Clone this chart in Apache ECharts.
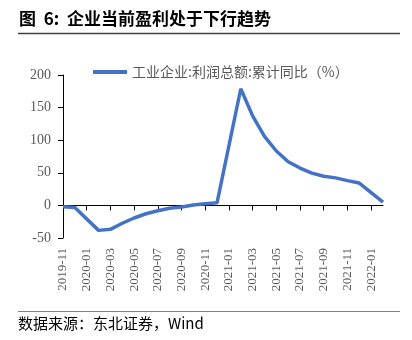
<!DOCTYPE html>
<html>
<head>
<meta charset="utf-8">
<script src="https://cdn.jsdelivr.net/npm/echarts@6/dist/echarts.min.js"></script>
<style>
  html, body { margin: 0; padding: 0; background: #ffffff; }
  #chart { width: 412px; height: 340px; }
</style>
</head>
<body>
<div id="chart"></div>
<script>
// Monthly categories, Nov 2019 to Feb 2022
const months = [
  '2019-11', '2019-12',
  '2020-01', '2020-02', '2020-03', '2020-04', '2020-05', '2020-06',
  '2020-07', '2020-08', '2020-09', '2020-10', '2020-11', '2020-12',
  '2021-01', '2021-02', '2021-03', '2021-04', '2021-05', '2021-06',
  '2021-07', '2021-08', '2021-09', '2021-10', '2021-11', '2021-12',
  '2022-01', '2022-02'
];

// Cumulative YoY profit growth of industrial enterprises (%); January is reported jointly with February
const profitYoY = [
  -2.1, -3.3,
  null, -38.3, -36.7, -27.4, -19.3, -12.8,
  -8.1, -4.4, -2.4, 0.7, 2.4, 4.1,
  null, 178.9, 137.3, 106.0, 83.4, 66.9,
  57.3, 49.5, 44.7, 42.2, 38.0, 34.3,
  null, 5.0
];

const seriesName = '工业企业:利润总额:累计同比（%）';
const titleText = '图  6:  企业当前盈利处于下行趋势';
const sourceText = '数据来源：东北证券，Wind';

const yMin = -50, yMax = 200, yStep = 50;

const serif = '"Liberation Serif", "DejaVu Serif", serif';
const cjk = '"Noto Sans CJK SC", sans-serif';
const labelGray = '#595959';

const chart = echarts.init(document.getElementById('chart'), null, { renderer: 'canvas' });

chart.setOption({
  animation: false,
  backgroundColor: '#ffffff',
  grid: { left: 63, right: 29, top: 75, bottom: 102, containLabel: false },
  legend: {
    left: 88, top: 60,
    itemWidth: 34, itemHeight: 4, itemGap: 10,
    icon: 'rect',
    textStyle: { fontFamily: cjk, fontSize: 14, color: labelGray },
    data: [seriesName]
  },
  xAxis: [
    {
      // labels along the bottom edge
      type: 'category', data: months, boundaryGap: false,
      position: 'bottom',
      axisLine: { show: false, onZero: false },
      axisTick: { show: false },
      axisLabel: {
        interval: 1, rotate: 90, margin: 10,
        fontFamily: serif, fontSize: 13, color: labelGray
      },
      splitLine: { show: false }
    },
    {
      // axis line and ticks running through zero
      type: 'category', data: months, boundaryGap: false,
      position: 'bottom',
      axisLine: { show: true, onZero: true, lineStyle: { color: '#000000', width: 1 } },
      axisTick: { show: true, interval: 1, length: 5, lineStyle: { color: '#000000' } },
      axisLabel: { show: false },
      splitLine: { show: false }
    }
  ],
  yAxis: {
    type: 'value', min: yMin, max: yMax, interval: yStep,
    axisLine: { show: true, lineStyle: { color: '#000000', width: 1 } },
    axisTick: { show: true, length: 5, lineStyle: { color: '#000000' } },
    axisLabel: { margin: 12, fontFamily: serif, fontSize: 14, color: labelGray },
    splitLine: { show: false }
  },
  series: [
    {
      name: seriesName,
      type: 'line',
      xAxisIndex: 0,
      data: profitYoY,
      connectNulls: true,
      showSymbol: false,
      symbol: 'none',
      lineStyle: { color: '#4472C4', width: 3.5 },
      itemStyle: { color: '#4472C4' }
    }
  ],
  graphic: [
    {
      type: 'text', left: 19, top: 10,
      style: { text: titleText, font: 'bold 17px ' + cjk, fill: '#000000' }
    },
    {
      type: 'line', shape: { x1: 18, y1: 33.5, x2: 400, y2: 33.5 },
      style: { stroke: '#404040', lineWidth: 1.5 }
    },
    {
      type: 'line', shape: { x1: 18, y1: 311.5, x2: 400, y2: 311.5 },
      style: { stroke: '#808080', lineWidth: 1.2 }
    },
    {
      type: 'text', left: 18, top: 316,
      style: { text: sourceText, font: '15px ' + cjk, fill: '#000000' }
    }
  ]
});
</script>
</body>
</html>
